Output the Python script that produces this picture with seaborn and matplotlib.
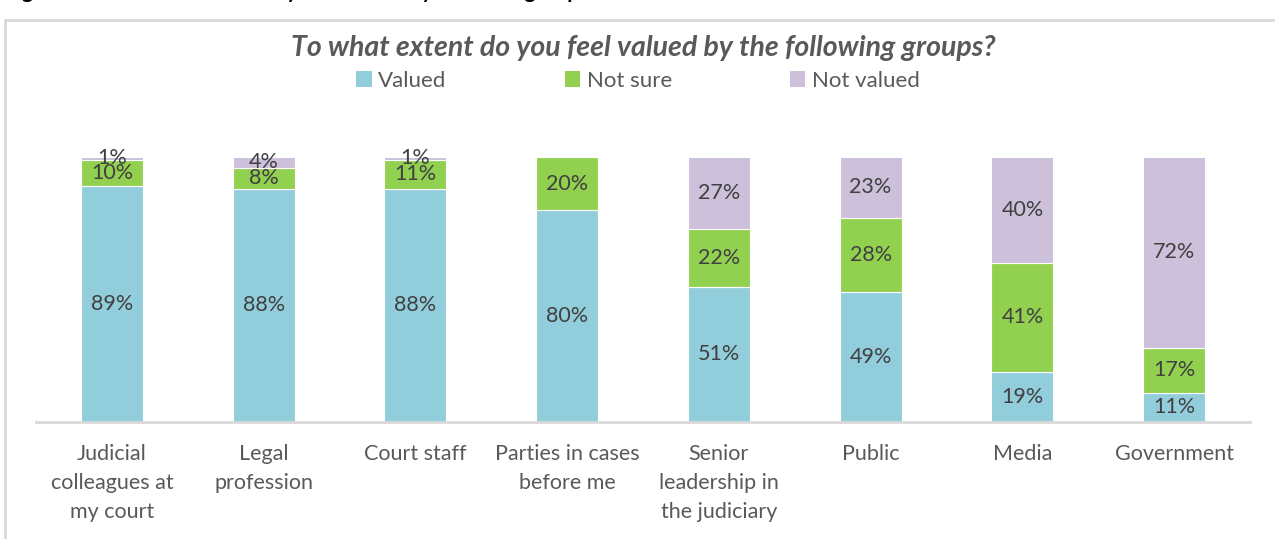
import matplotlib
matplotlib.use("Agg")
import matplotlib.pyplot as plt
from matplotlib.lines import Line2D
from matplotlib.patches import Patch
import numpy as np
import pandas as pd
import seaborn as sns

# Survey responses, percent of respondents per group
groups = [
    "Judicial\ncolleagues at\nmy court",
    "Legal\nprofession",
    "Court staff",
    "Parties in cases\nbefore me",
    "Senior\nleadership in\nthe judiciary",
    "Public",
    "Media",
    "Government",
]
valued = [89, 88, 88, 80, 51, 49, 19, 11]
not_sure = [10, 8, 11, 20, 22, 28, 41, 17]
not_valued = [1, 4, 1, 0, 27, 23, 40, 72]

series_names = ["Valued", "Not sure", "Not valued"]
series_colors = ["#92CDDC", "#92D050", "#CCC0DA"]

sns.set_theme(style="white")
plt.rcParams["font.family"] = ["Lato", "DejaVu Sans"]

W, H = 1275, 539
fig = plt.figure(figsize=(W / 100, H / 100), dpi=100)
ax = fig.add_axes([36 / W, (H - 422) / H, (1250 - 36) / W, (422 - 157) / H])

df = pd.DataFrame({"group": groups, "Valued": valued,
                   "Not sure": not_sure, "Not valued": not_valued})

bottom = np.zeros(len(groups))
for name, color in zip(series_names, series_colors):
    vals = df[name].to_numpy(dtype=float)
    sns.barplot(data=df, x="group", y=name, order=groups, color=color,
                saturation=1, width=0.41, bottom=bottom, edgecolor="white",
                linewidth=0.8, ax=ax, errorbar=None)
    for i, v in enumerate(vals):
        if v > 0:
            ax.text(i, bottom[i] + v / 2, f"{v:.0f}%", ha="center", va="center",
                    fontsize=15.5, color="#404040")
    bottom = bottom + vals

ax.set_xlim(-0.5, len(groups) - 0.5)
ax.set_ylim(0, 100)
ax.set_xlabel("")
ax.set_ylabel("")
ax.set_yticks([])
for side in ["top", "right", "left"]:
    ax.spines[side].set_visible(False)
ax.spines["bottom"].set_color("#D9D9D9")
ax.spines["bottom"].set_linewidth(2)
ax.tick_params(axis="x", length=0, pad=16, labelsize=15.5, labelcolor="#595959")
for lbl in ax.get_xticklabels():
    lbl.set_linespacing(1.55)
    lbl.set_verticalalignment("top")

# Chart frame
fig.add_artist(Line2D([5 / W, 5 / W], [0, 1 - 20 / H], color="#D9D9D9", lw=2))
fig.add_artist(Line2D([5 / W, 1], [1 - 20 / H, 1 - 20 / H], color="#D9D9D9", lw=2))

# Figure caption sitting above the frame
fig.text(5 / W, 1 + 2 / H, "Figure 14: Extent to which they feel valued by different groups",
         ha="left", va="baseline", fontsize=15, fontweight="bold", color="black")

fig.text(643 / W, 1 - 48 / H, "To what extent do you feel valued by the following groups?",
         ha="center", va="center", fontsize=20.5, fontweight="bold", style="italic",
         color="#595959")

handles = [Patch(facecolor=c, edgecolor="none") for c in series_colors]
fig.legend(handles, series_names, loc="center", bbox_to_anchor=(638 / W, 1 - 81 / H),
           ncol=3, frameon=False, fontsize=16, handlelength=0.7, handleheight=0.7,
           handletextpad=0.3, columnspacing=5.3, labelcolor="#595959")

fig.savefig("out.png", dpi=100, facecolor="white")
